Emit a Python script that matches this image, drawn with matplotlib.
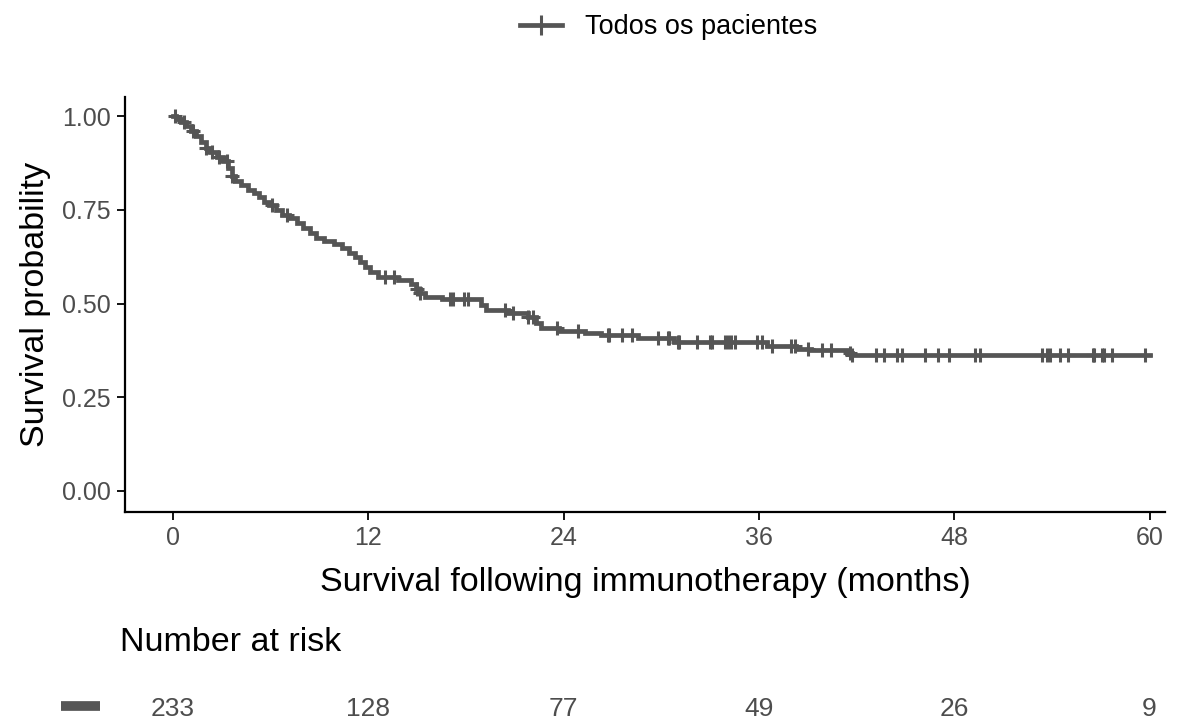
import numpy as np
import matplotlib.pyplot as plt
from matplotlib.lines import Line2D

plt.rcParams['font.family'] = ['Liberation Sans', 'DejaVu Sans']

# Kaplan-Meier steps: time (months) and survival after each event
event_t = [0, 0.2, 0.5, 0.8, 1.1, 1.4, 1.7, 2.0, 2.3, 2.7, 3.1, 3.4, 3.6, 3.8,
           4.2, 4.6, 5.0, 5.3, 5.6, 5.9, 6.3, 6.7, 7.1, 7.6, 8.0, 8.4, 8.8,
           9.3, 9.9, 10.4, 10.8, 11.2, 11.5, 11.8, 12.1, 12.6, 13.8, 14.6,
           14.9, 15.2, 15.5, 16.5, 18.9, 19.2, 20.6, 21.8, 22.3, 22.6, 23.7,
           25.3, 26.3, 28.6, 30.8, 36.5, 38.3, 39.2, 41.4, 41.7]
event_s = [1.0, 0.991, 0.983, 0.974, 0.961, 0.948, 0.931, 0.914, 0.905, 0.892,
           0.879, 0.862, 0.841, 0.828, 0.815, 0.802, 0.794, 0.785, 0.772,
           0.763, 0.750, 0.737, 0.728, 0.715, 0.702, 0.689, 0.676, 0.667,
           0.658, 0.649, 0.636, 0.623, 0.610, 0.597, 0.584, 0.572, 0.563,
           0.551, 0.540, 0.529, 0.518, 0.511, 0.497, 0.483, 0.474, 0.464,
           0.449, 0.435, 0.428, 0.421, 0.416, 0.408, 0.397, 0.386, 0.380,
           0.375, 0.368, 0.363]
end_t = 60

# censored observations
censor_t = [0.1, 0.7, 1.2, 2.0, 2.4, 2.8, 3.3, 3.6, 6.1, 7.0, 13.0, 13.6, 15.0,
            15.2, 17.0, 17.2, 17.9, 18.1, 20.4, 20.9, 21.8, 22.1, 23.6, 24.9,
            26.7, 26.8, 27.6, 28.2, 29.8, 30.4, 30.5, 31.0, 31.1, 32.2, 33.0,
            33.1, 33.9, 34.1, 34.3, 34.5, 35.9, 36.2, 36.8, 38.0, 38.2, 39.0,
            39.9, 40.4, 41.6, 41.7, 43.2, 43.7, 44.5, 44.8, 46.2, 47.0, 47.7,
            49.3, 49.6, 53.4, 53.7, 53.9, 54.5, 55.0, 56.5, 56.6, 57.1, 57.2,
            57.7, 59.7]

risk_times = [0, 12, 24, 36, 48, 60]
n_at_risk = [233, 128, 77, 49, 26, 9]

col = '#555555'
txt_gray = '#4d4d4d'

fig = plt.figure(figsize=(11.94, 7.22), dpi=100)
ax = fig.add_axes([0.1047, 0.2909, 0.871, 0.5748])

xs = np.array(event_t + [end_t])
ys = np.array(event_s + [event_s[-1]])
ax.step(xs, ys, where='post', color=col, lw=3.4, solid_joinstyle='miter')

ct = np.array(censor_t)
idx = np.searchsorted(xs, ct, side='right') - 1
ax.plot(ct, ys[idx], ls='none', marker='+', ms=10, mew=2.2, color=col)

ax.set_xlim(-2.95, 60.95)
ax.set_ylim(-0.056, 1.051)
ax.set_xticks(risk_times)
ax.set_yticks([0, 0.25, 0.5, 0.75, 1.0])
ax.set_yticklabels(['0.00', '0.25', '0.50', '0.75', '1.00'])
for s in ['top', 'right']:
    ax.spines[s].set_visible(False)
for s in ['left', 'bottom']:
    ax.spines[s].set_linewidth(1.6)
ax.tick_params(length=6, width=1.3, labelsize=18, labelcolor=txt_gray, pad=4)
ax.set_xlabel('Survival following immunotherapy (months)', fontsize=24.5, labelpad=12)
ax.set_ylabel('Survival probability', fontsize=24.5, labelpad=8)

handle = Line2D([], [], color=col, lw=3.4, marker='+', ms=15, mew=2.2)
fig.legend([handle], ['Todos os pacientes'], loc='center', bbox_to_anchor=(0.56, 0.962),
           frameon=False, fontsize=19.5, handlelength=1.55, handletextpad=0.85)

# risk table
fig.text(0.1005, 0.11, 'Number at risk', fontsize=24.5, va='center')
rax = fig.add_axes([0.1047, 0.0, 0.871, 0.04])
rax.set_xlim(ax.get_xlim())
rax.set_ylim(0, 1)
rax.axis('off')
for t, n in zip(risk_times, n_at_risk):
    rax.text(t, 0.45, str(n), ha='center', va='center', fontsize=19, color=txt_gray)
fig.add_artist(Line2D([0.051, 0.084], [0.0215, 0.0215], color=col, lw=7,
                      solid_capstyle='butt', transform=fig.transFigure))

fig.savefig('out.png', dpi=100)
